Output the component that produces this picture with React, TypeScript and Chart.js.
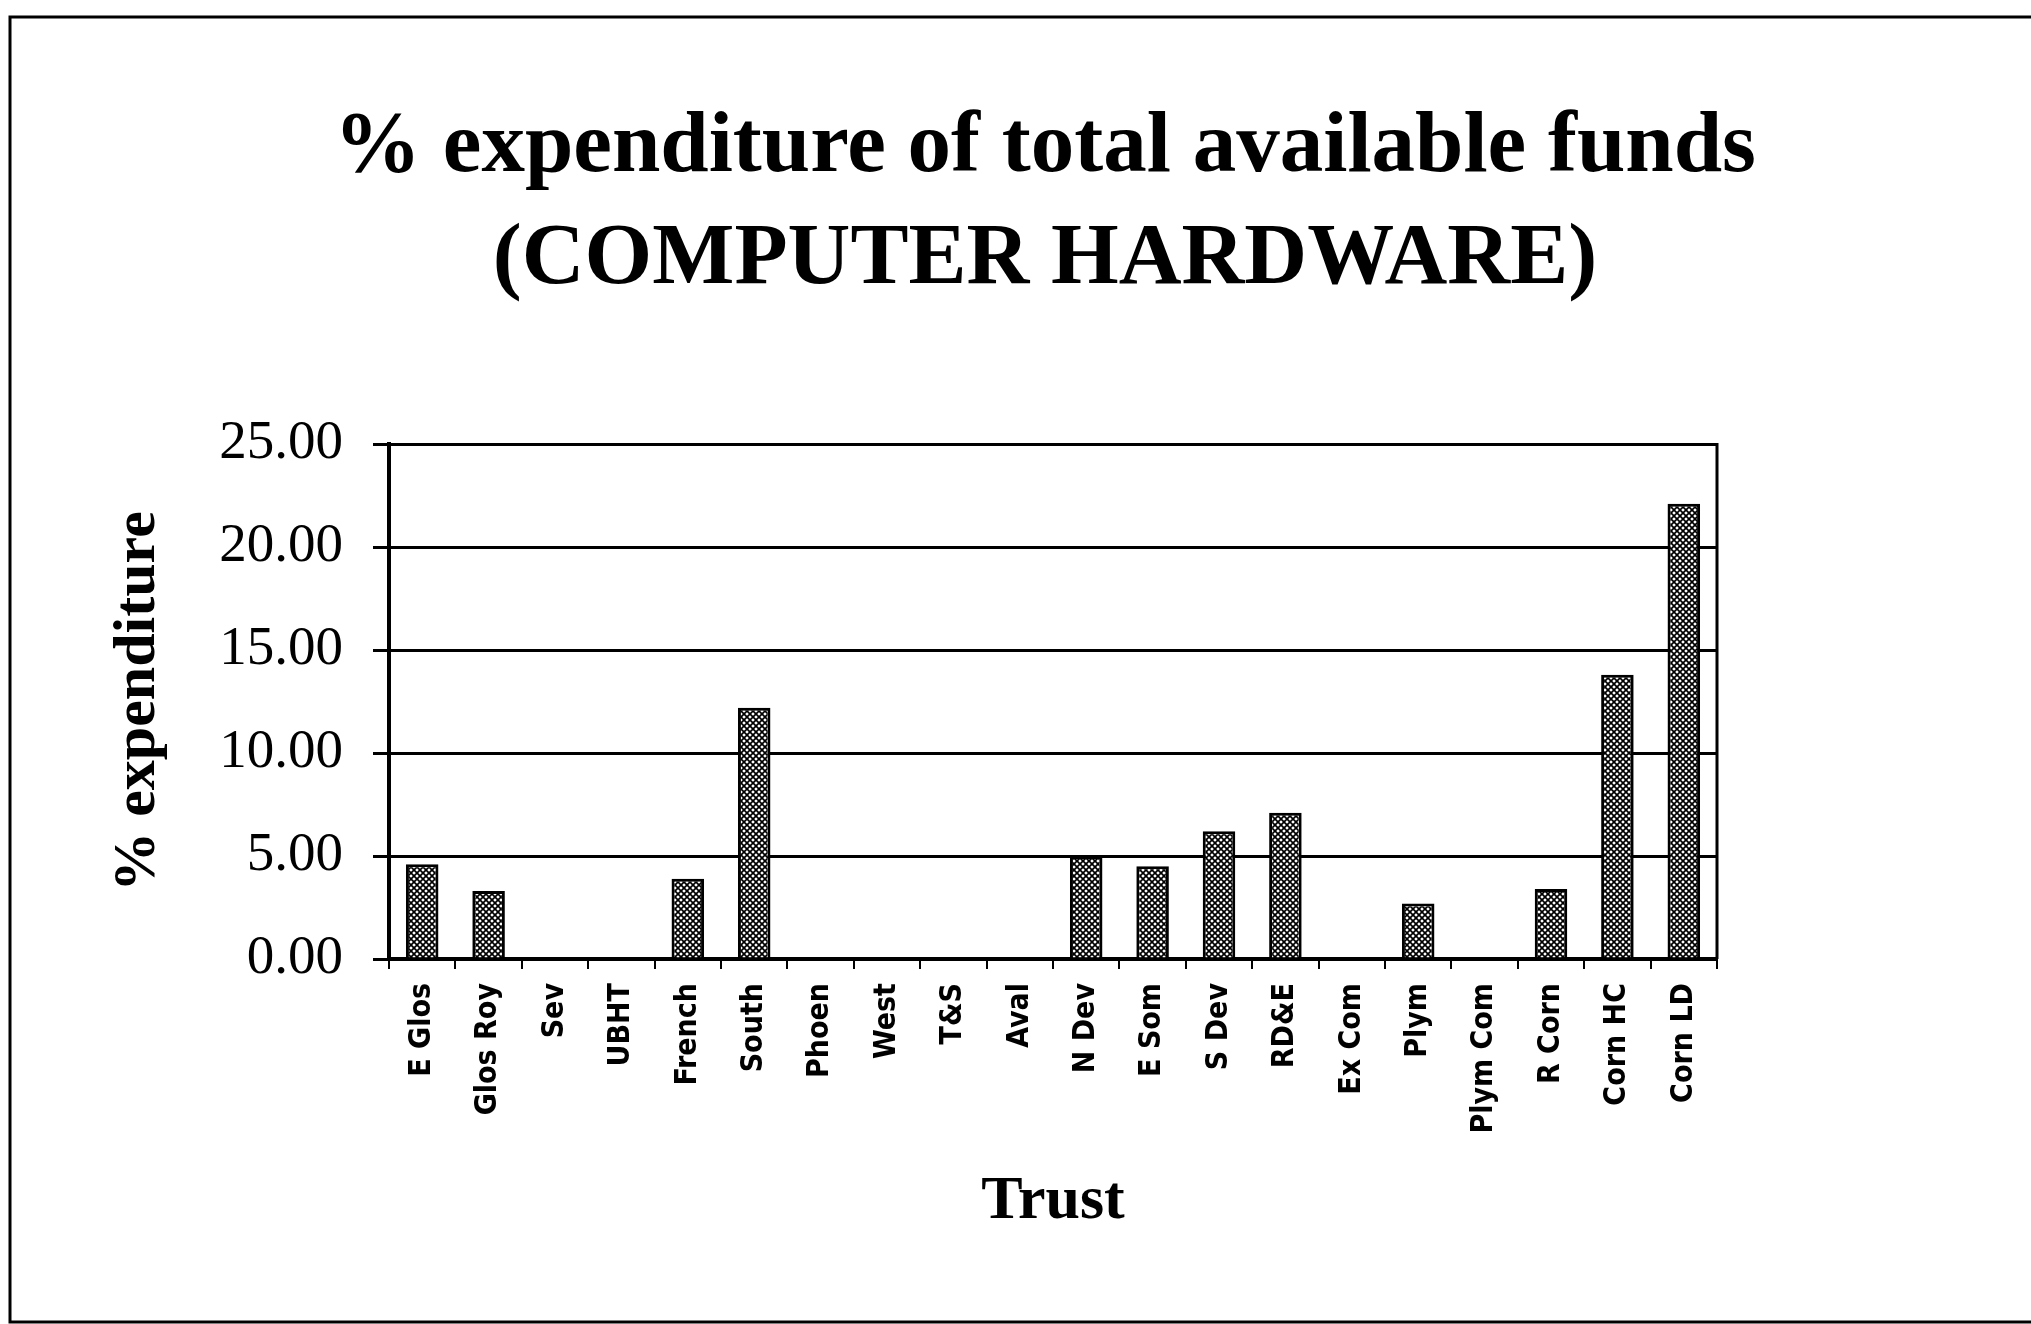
import React, { useEffect, useRef } from "react";
import { Chart, registerables } from "chart.js";

Chart.register(...registerables);

// ---- Data ----
const categories = [
  "E Glos", "Glos Roy", "Sev", "UBHT", "French", "South", "Phoen", "West", "T&S", "Aval",
  "N Dev", "E Som", "S Dev", "RD&E", "Ex Com", "Plym", "Plym Com", "R Corn", "Corn HC", "Corn LD",
];
const expenditure = [4.6, 3.3, 0, 0, 3.9, 12.2, 0, 0, 0, 0, 5.0, 4.5, 6.2, 7.1, 0, 2.7, 0, 3.4, 13.8, 22.1];
const yMin = 0;
const yMax = 25;
const yStep = 5;
const titleLines = ["% expenditure of total available funds", "(COMPUTER HARDWARE)"];
const yAxisTitle = "% expenditure";
const xAxisTitle = "Trust";

const W = 2031;
const H = 1324;

function makePattern(): CanvasPattern | string {
  const c = document.createElement("canvas");
  c.width = 6;
  c.height = 6;
  const g = c.getContext("2d");
  if (!g) return "#777";
  g.fillStyle = "#ffffff";
  g.fillRect(0, 0, 6, 6);
  g.strokeStyle = "#000000";
  g.lineWidth = 1.7;
  g.beginPath();
  g.moveTo(0, 0);
  g.lineTo(6, 6);
  g.moveTo(6, 0);
  g.lineTo(0, 6);
  g.stroke();
  return g.createPattern(c, "repeat") ?? "#777";
}

const framePlugin = {
  id: "frame",
  beforeDraw(chart: any) {
    const ctx = chart.ctx as CanvasRenderingContext2D;
    ctx.save();
    ctx.fillStyle = "#ffffff";
    ctx.fillRect(0, 0, chart.width, chart.height);
    ctx.strokeStyle = "#000";
    ctx.lineWidth = 3;
    ctx.strokeRect(10, 17, chart.width + 20, 1305);
    ctx.restore();
  },
  afterDraw(chart: any) {
    const ctx = chart.ctx as CanvasRenderingContext2D;
    const a = chart.chartArea;
    ctx.save();
    ctx.strokeStyle = "#000";
    ctx.lineWidth = 3;
    ctx.beginPath();
    ctx.moveTo(a.right, a.top - 1);
    ctx.lineTo(a.right, a.bottom);
    ctx.stroke();
    // bold serif title, two lines
    ctx.fillStyle = "#000";
    ctx.font = "bold 87px 'Liberation Serif', 'Times New Roman', serif";
    ctx.textAlign = "center";
    ctx.textBaseline = "alphabetic";
    const baselines = [171, 283];
    titleLines.forEach((t, i) => {
      ctx.fillText(t, 1045, baselines[i]);
    });
    ctx.restore();
  },
};

export default function App() {
  const ref = useRef<HTMLCanvasElement | null>(null);

  useEffect(() => {
    if (!ref.current) return;
    const pattern = makePattern();
    const chart = new Chart(ref.current, {
      type: "bar",
      data: {
        labels: categories,
        datasets: [
          {
            data: expenditure,
            backgroundColor: pattern as any,
            borderColor: "#000",
            borderWidth: 3,
            categoryPercentage: 1,
            barPercentage: 0.49,
          },
        ],
      },
      options: {
        responsive: false,
        animation: false,
        devicePixelRatio: 1,
        layout: { padding: { left: 40, right: 314, top: 444, bottom: 40 } },
        plugins: {
          legend: { display: false },
          title: { display: false },
          tooltip: { enabled: false },
        },
        scales: {
          x: {
            offset: true,
            grid: {
              display: true,
              drawOnChartArea: false,
              drawTicks: true,
              tickLength: 10,
              color: "#000",
              lineWidth: 2,
              offset: true,
            },
            border: { display: true, color: "#000", width: 4 },
            ticks: {
              autoSkip: false,
              maxRotation: 90,
              minRotation: 90,
              padding: 14,
              color: "#000",
              font: { family: "'Liberation Sans Narrow', 'DejaVu Sans Condensed', 'Liberation Sans', sans-serif", size: 30, weight: "bold" },
            },
            title: {
              display: true,
              text: xAxisTitle,
              color: "#000",
              font: { family: "'Liberation Serif', 'Times New Roman', serif", size: 62, weight: "bold" },
              padding: { top: 0, bottom: 45 },
            },
            afterFit(scale: any) {
              scale.height = 325;
            },
          },
          y: {
            min: yMin,
            max: yMax,
            grid: {
              color: "#000",
              lineWidth: 3,
              tickLength: 16,
              drawTicks: true,
            },
            border: { display: true, color: "#000", width: 4 },
            ticks: {
              stepSize: yStep,
              padding: 30,
              color: "#000",
              font: { family: "'Liberation Serif', 'Times New Roman', serif", size: 55 },
              callback: (v: any) => Number(v).toFixed(2),
            },
            title: {
              display: true,
              text: yAxisTitle,
              color: "#000",
              font: { family: "'Liberation Serif', 'Times New Roman', serif", size: 60, weight: "bold" },
              padding: { top: 62, bottom: 0 },
            },
            afterFit(scale: any) {
              scale.width = 349;
            },
          },
        },
      },
      plugins: [framePlugin],
    });
    return () => chart.destroy();
  }, []);

  return (
    <div style={{ position: "fixed", left: 0, top: 0, width: W, height: H, background: "#fff" }}>
      <canvas ref={ref} width={W} height={H} style={{ width: W, height: H, display: "block" }} />
    </div>
  );
}
